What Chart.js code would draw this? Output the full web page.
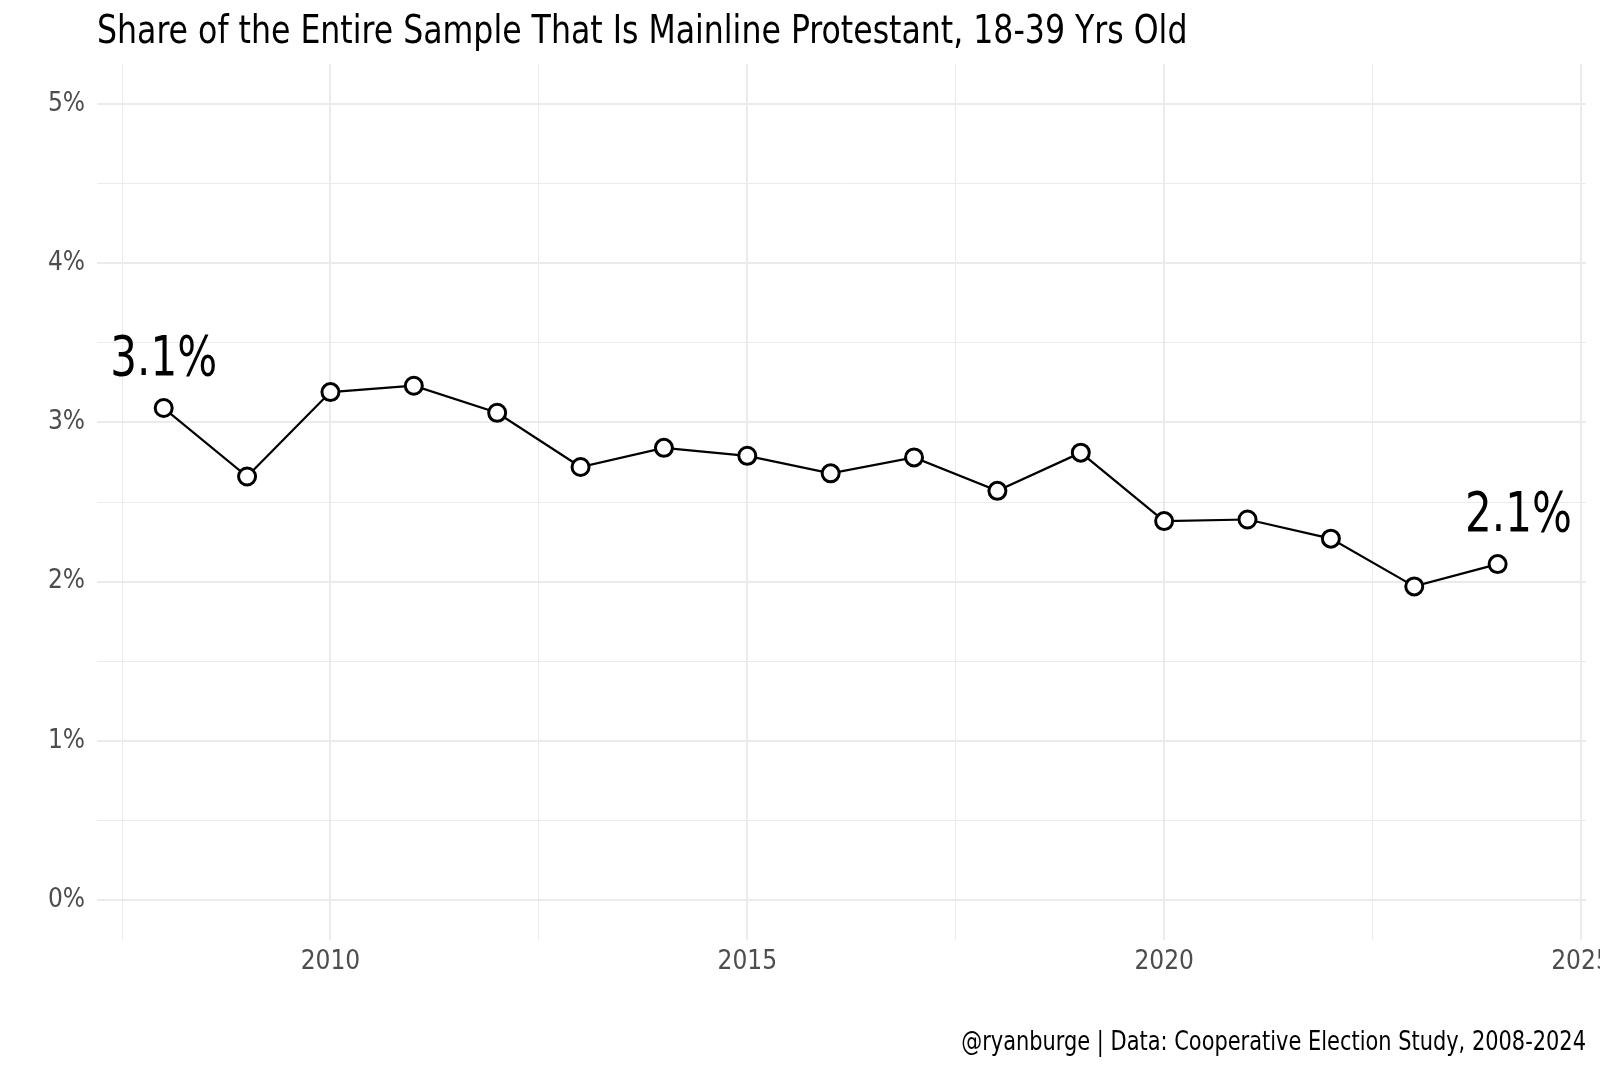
<!DOCTYPE html>
<html lang="en">
  <head>
    <meta charset="UTF-8" />
    <title>Mainline Protestant share, 18-39</title>
    <style>
      body { margin: 0; background: #fff; }
      #wrap { width: 1600px; height: 1066px; position: relative; }
    </style>
  </head>
  <body>
    <div id="wrap"><canvas id="myChart"></canvas></div>

    <script src="https://cdn.jsdelivr.net/npm/chart.js"></script>

    <script>
      // data (percent of entire sample)
      const years = [2008, 2009, 2010, 2011, 2012, 2013, 2014, 2015, 2016, 2017, 2018, 2019, 2020, 2021, 2022, 2023, 2024];
      const shares = [3.09, 2.66, 3.19, 3.23, 3.06, 2.72, 2.84, 2.79, 2.68, 2.78, 2.57, 2.81, 2.38, 2.39, 2.27, 1.97, 2.11];

      const xTicks = [2007.5, 2010, 2012.5, 2015, 2017.5, 2020, 2022.5, 2025];
      const yTicks = [0, 0.5, 1, 1.5, 2, 2.5, 3, 3.5, 4, 4.5, 5];

      const labelYears = [2008, 2024];
      const labelTexts = ["3.1%", "2.1%"];

      const title = "Share of the Entire Sample That Is Mainline Protestant, 18-39 Yrs Old";
      const caption = "@ryanburge | Data: Cooperative Election Study, 2008-2024";

      const FONT = "'Liberation Sans Narrow', 'DejaVu Sans Condensed', sans-serif";
      Chart.defaults.font.family = FONT;

      const isMajor = (v) => Math.abs(v - Math.round(v)) < 1e-9;

      // squeeze text horizontally so it sits closer to the narrow original face
      function narrowText(ctx, text, x, y, sx) {
        ctx.save();
        ctx.translate(x, y);
        ctx.scale(sx, 1);
        ctx.fillText(text, 0, 0);
        ctx.restore();
      }

      // title, caption and the two end labels
      const textLayer = {
        id: "textLayer",
        afterDraw(chart) {
          const ctx = chart.ctx;
          const xs = chart.scales.x;
          const ys = chart.scales.y;
          const area = chart.chartArea;
          ctx.save();
          ctx.fillStyle = "#000";
          ctx.textBaseline = "alphabetic";

          ctx.font = "39px " + FONT;
          ctx.textAlign = "left";
          narrowText(ctx, title, area.left, 43, 0.9);

          ctx.font = "26px " + FONT;
          ctx.textAlign = "right";
          narrowText(ctx, caption, area.right, 1050, 0.895);

          ctx.font = "55px " + FONT;
          ctx.textAlign = "center";
          ctx.textBaseline = "middle";
          labelYears.forEach((yr, i) => {
            const idx = years.indexOf(yr);
            const nudgeX = i === labelYears.length - 1 ? 0.25 : 0;
            const px = xs.getPixelForValue(yr + nudgeX);
            const py = ys.getPixelForValue(shares[idx] + 0.3);
            narrowText(ctx, labelTexts[i], px, py, 0.85);
          });
          ctx.restore();
        },
      };

      const ctx = document.getElementById("myChart");
      new Chart(ctx, {
        type: "line",
        data: {
          datasets: [
            {
              data: years.map((y, i) => ({ x: y, y: shares[i] })),
              borderColor: "#000",
              borderWidth: 2.2,
              tension: 0,
              pointRadius: 8.5,
              pointHoverRadius: 8.5,
              pointBorderWidth: 3,
              pointBackgroundColor: "#fff",
              pointBorderColor: "#000",
            },
          ],
        },
        options: {
          responsive: true,
          maintainAspectRatio: false,
          animation: false,
          layout: { padding: { top: 64, right: 14, left: 0, bottom: 0 } },
          plugins: {
            legend: { display: false },
            tooltip: { enabled: false },
          },
          scales: {
            x: {
              type: "linear",
              min: 2007.2,
              max: 2025.06,
              afterBuildTicks: (scale) => {
                scale.ticks = xTicks.map((v) => ({ value: v }));
              },
              afterFit: (scale) => {
                scale.height = 126;
                scale.paddingLeft = 0;
                scale.paddingRight = 0;
              },
              border: { display: false },
              grid: {
                drawTicks: false,
                color: "#ebebeb",
                lineWidth: (c) => (c.tick && c.tick.value % 5 === 0 ? 2 : 1),
              },
              ticks: {
                autoSkip: false,
                maxRotation: 0,
                padding: 7,
                color: "#4d4d4d",
                font: { size: 26 },
                callback: (v) => (v % 5 === 0 ? String(v) : ""),
              },
            },
            y: {
              min: -0.25,
              max: 5.25,
              afterBuildTicks: (scale) => {
                scale.ticks = yTicks.map((v) => ({ value: v }));
              },
              afterFit: (scale) => {
                scale.width = 97;
                scale.paddingTop = 0;
                scale.paddingBottom = 0;
              },
              border: { display: false },
              grid: {
                drawTicks: false,
                color: "#ebebeb",
                lineWidth: (c) => (c.tick && isMajor(c.tick.value) ? 2 : 1),
              },
              ticks: {
                autoSkip: false,
                padding: 12,
                color: "#4d4d4d",
                font: { size: 26 },
                callback: (v) => (isMajor(v) ? v + "%" : ""),
              },
            },
          },
        },
        plugins: [textLayer],
      });
    </script>
  </body>
</html>
